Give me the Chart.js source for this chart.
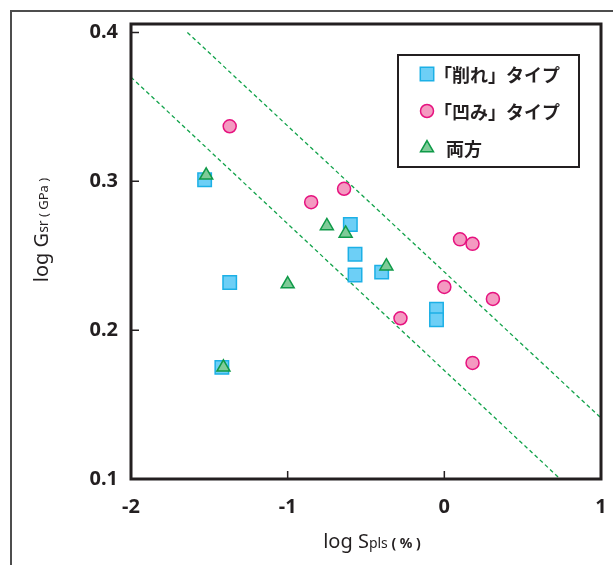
<!DOCTYPE html>
<html>
<head>
<meta charset="utf-8">
<script src="https://cdn.jsdelivr.net/npm/chart.js@4.4.0/dist/chart.umd.min.js"></script>
<style>
  html, body { margin: 0; padding: 0; background: #fff; }
  #wrap { width: 613px; height: 565px; position: relative; }
</style>
</head>
<body>
<div id="wrap"><canvas id="chart" width="613" height="565"></canvas></div>
<script>
// values
const seriesLabels = ["「削れ」タイプ", "「凹み」タイプ", "両方"];

const kezureX = [-1.53, -1.37, -1.42, -0.60, -0.57, -0.57, -0.40, -0.05, -0.05];
const kezureY = [0.301, 0.232, 0.175, 0.271, 0.251, 0.237, 0.239, 0.214, 0.207];

const kubomiX = [-1.37, -0.85, -0.64, -0.28, 0.00, 0.10, 0.18, 0.31, 0.18];
const kubomiY = [0.337, 0.286, 0.295, 0.208, 0.229, 0.261, 0.258, 0.221, 0.178];

const ryohoX = [-1.52, -1.41, -1.00, -0.75, -0.63, -0.37];
const ryohoY = [0.304, 0.175, 0.231, 0.270, 0.265, 0.243];

const upperLineX = [-1.64, 1.00];
const upperLineY = [0.400, 0.141];
const lowerLineX = [-2.00, 0.74];
const lowerLineY = [0.370, 0.100];

const xTicks = [-2, -1, 0, 1];
const yTicks = [0.1, 0.2, 0.3, 0.4];

const pts = (xs, ys) => xs.map((x, i) => ({ x, y: ys[i] }));

const INK = "#231f20";

const styles = [
  { pointStyle: "rect", radius: 9.5, bg: "#6dcff6", border: "#1cb0e6" },
  { pointStyle: "circle", radius: 6.5, bg: "#f49ac1", border: "#e6127f" },
  { pointStyle: "triangle", radius: 7.5, bg: "#7fcb98", border: "#0f9a48" },
];

function drawRich(ctx, parts, cx, cy) {
  // parts drawn on a common baseline, centred on cx
  let total = 0;
  parts.forEach(p => { ctx.font = p.font; p.w = ctx.measureText(p.t).width; total += p.w; });
  let x = cx - total / 2;
  ctx.textBaseline = "alphabetic";
  ctx.textAlign = "left";
  parts.forEach(p => { ctx.font = p.font; ctx.fillText(p.t, x, cy); x += p.w; });
}

const decor = {
  id: "decor",
  beforeDraw(chart) {
    const ctx = chart.ctx;
    ctx.save();
    ctx.strokeStyle = "#4d4d4d";
    ctx.lineWidth = 2;
    ctx.beginPath();
    ctx.moveTo(11, chart.height);
    ctx.lineTo(11, 11);
    ctx.lineTo(chart.width, 11);
    ctx.stroke();
    ctx.restore();
  },
  afterDraw(chart) {
    const { ctx, chartArea: a, scales } = chart;
    ctx.save();

    // inner tick marks
    ctx.strokeStyle = INK;
    ctx.lineWidth = 1.5;
    ctx.beginPath();
    yTicks.forEach(v => {
      const y = scales.y.getPixelForValue(v);
      ctx.moveTo(a.left, y); ctx.lineTo(a.left + 8, y);
    });
    xTicks.forEach(v => {
      const x = scales.x.getPixelForValue(v);
      ctx.moveTo(x, a.bottom); ctx.lineTo(x, a.bottom - 8);
    });
    ctx.stroke();

    // plot frame
    ctx.lineWidth = 3;
    ctx.strokeRect(a.left, a.top, a.right - a.left, a.bottom - a.top);

    // axis titles
    ctx.fillStyle = INK;
    drawRich(ctx, [
      { t: "log S", font: "20px 'Noto Sans'" },
      { t: "pls", font: "14px 'Noto Sans'" },
      { t: " ( % )", font: "bold 14px 'Noto Sans'" },
    ], 372, 548);
    ctx.save();
    ctx.translate(48, 230);
    ctx.rotate(-Math.PI / 2);
    drawRich(ctx, [
      { t: "log G", font: "20px 'Noto Sans'" },
      { t: "sr", font: "14px 'Noto Sans'" },
      { t: " ( GPa )", font: "13px 'Noto Sans'" },
    ], 0, 0);
    ctx.restore();

    // legend box
    ctx.lineWidth = 2;
    ctx.strokeStyle = INK;
    ctx.strokeRect(398, 55, 181, 112);
    ctx.font = "bold 18px 'Noto Sans CJK JP'";
    ctx.textBaseline = "middle";
    ctx.textAlign = "left";
    seriesLabels.forEach((lab, i) => {
      const s = styles[i];
      const y = 74 + i * 37;
      ctx.fillStyle = s.bg;
      ctx.strokeStyle = s.border;
      ctx.lineWidth = 1.5;
      Chart.helpers.drawPoint(ctx, { pointStyle: s.pointStyle, radius: s.radius, rotation: 0, borderWidth: 1.5 }, 427, y);
      ctx.fillStyle = INK;
      ctx.fillText(lab, i === 2 ? 446 : 434, y + 1);
    });
    ctx.restore();
  }
};

const scatterSet = (i, data, order) => ({
  label: seriesLabels[i],
  data,
  pointStyle: styles[i].pointStyle,
  pointRadius: styles[i].radius,
  pointBackgroundColor: styles[i].bg,
  pointBorderColor: styles[i].border,
  pointBorderWidth: 1.5,
  showLine: false,
  order,
});

const lineSet = (data) => ({
  data,
  showLine: true,
  borderColor: "#11a24a",
  borderWidth: 1.3,
  borderDash: [4, 3],
  pointRadius: 0,
  fill: false,
  order: 10,
});

new Chart(document.getElementById("chart"), {
  type: "scatter",
  data: {
    datasets: [
      scatterSet(0, pts(kezureX, kezureY), 3),
      scatterSet(1, pts(kubomiX, kubomiY), 2),
      scatterSet(2, pts(ryohoX, ryohoY), 1),
      lineSet(pts(upperLineX, upperLineY)),
      lineSet(pts(lowerLineX, lowerLineY)),
    ],
  },
  options: {
    responsive: false,
    animation: false,
    layout: { padding: { top: 24, right: 12, left: 0, bottom: 0 } },
    plugins: { legend: { display: false }, tooltip: { enabled: false } },
    scales: {
      x: {
        type: "linear",
        min: -2,
        max: 1,
        afterBuildTicks: s => { s.ticks = xTicks.map(v => ({ value: v })); },
        afterFit: s => { s.height = 86; s.paddingLeft = 0; s.paddingRight = 0; },
        grid: { display: false, drawTicks: false },
        border: { display: false },
        ticks: {
          padding: 16,
          color: INK,
          font: { family: "'Noto Sans'", size: 20, weight: "bold" },
          callback: v => String(v),
        },
      },
      y: {
        type: "linear",
        min: 0.1,
        max: 0.4057,
        afterBuildTicks: s => { s.ticks = yTicks.map(v => ({ value: v })); },
        afterFit: s => { s.width = 131; s.paddingTop = 0; s.paddingBottom = 0; },
        grid: { display: false, drawTicks: false },
        border: { display: false },
        ticks: {
          padding: 13,
          color: INK,
          font: { family: "'Noto Sans'", size: 20, weight: "bold" },
          callback: v => v.toFixed(1),
        },
      },
    },
  },
  plugins: [decor],
});
</script>
</body>
</html>
